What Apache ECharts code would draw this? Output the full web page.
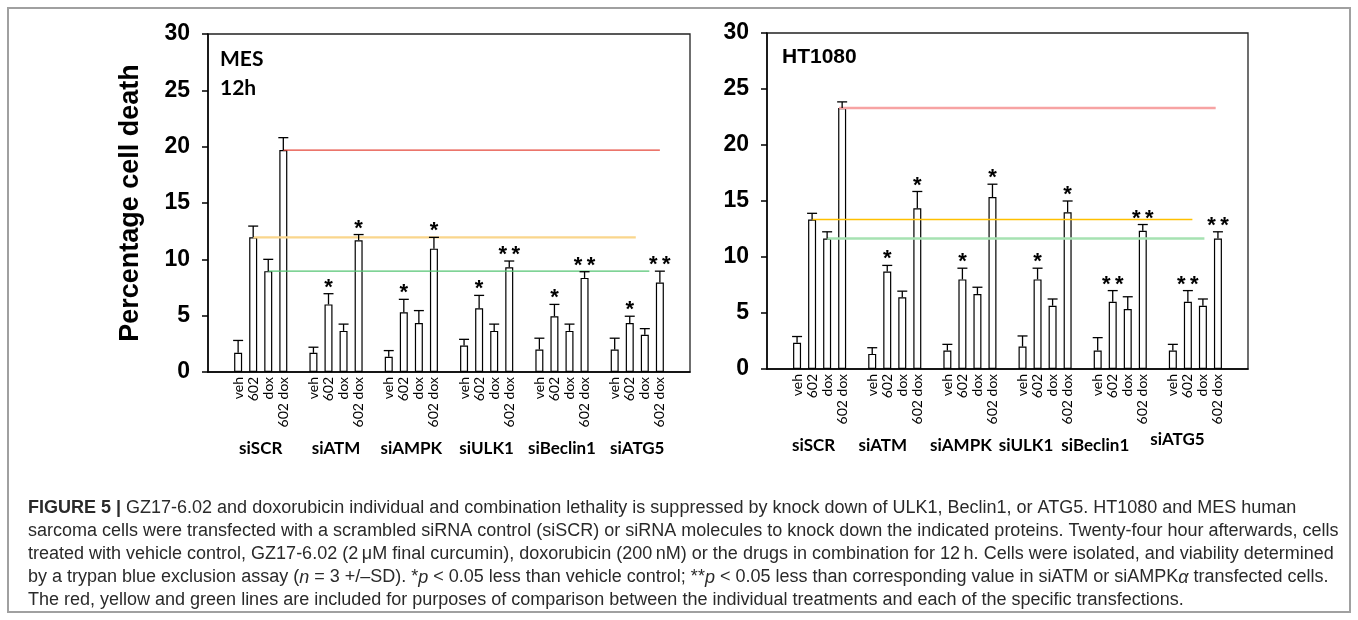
<!DOCTYPE html>
<html><head><meta charset="utf-8">
<script src="https://cdn.jsdelivr.net/npm/echarts@6/dist/echarts.min.js"></script>
<style>html,body{margin:0;padding:0;background:#fff}#c{width:1358px;height:620px}</style>
</head><body><div id="c"></div>
<script>
// ---------- data ----------
const groups = ['siSCR', 'siATM', 'siAMPK', 'siULK1', 'siBeclin1', 'siATG5'];
const treatments = ['veh', '602', 'dox', '602 dox'];
const yTicks = [0, 5, 10, 15, 20, 25, 30];

// MES 12h (left panel): mean and SD per group x treatment
const mesMean = [
  [1.7, 11.95, 8.95, 19.7],
  [1.7, 6.0, 3.65, 11.7],
  [1.35, 5.3, 4.35, 10.95],
  [2.35, 5.65, 3.65, 9.3],
  [2.0, 4.95, 3.65, 8.35],
  [2.0, 4.35, 3.3, 7.95]
];
const mesSD = [
  [1.1, 1.0, 1.05, 1.1],
  [0.5, 0.95, 0.6, 0.5],
  [0.55, 1.15, 1.1, 1.0],
  [0.55, 1.15, 0.6, 0.55],
  [1.0, 1.05, 0.6, 0.55],
  [1.0, 0.6, 0.55, 1.0]
];
const mesStars = [
  ['', '', '', ''],
  ['', '*', '', '*'],
  ['', '*', '', '*'],
  ['', '*', '', '**'],
  ['', '*', '', '**'],
  ['', '*', '', '**']
];

// HT1080 (right panel)
const htMean = [
  [2.35, 13.35, 11.65, 23.3],
  [1.35, 8.7, 6.4, 14.35],
  [1.65, 8.0, 6.7, 15.35],
  [2.0, 8.0, 5.65, 14.0],
  [1.65, 6.0, 5.35, 12.35],
  [1.65, 6.0, 5.65, 11.65]
];
const htSD = [
  [0.55, 0.55, 0.6, 0.55],
  [0.55, 0.55, 0.55, 1.5],
  [0.55, 1.0, 0.6, 1.15],
  [0.95, 1.0, 0.6, 1.0],
  [1.15, 1.0, 1.1, 0.55],
  [0.55, 1.0, 0.6, 0.6]
];
const htStars = [
  ['', '', '', ''],
  ['', '*', '', '*'],
  ['', '*', '', '*'],
  ['', '*', '', '*'],
  ['', '**', '', '**'],
  ['', '**', '', '**']
];

// comparison lines: level = siSCR value of [602 dox, 602, dox]; extent in category units
const refTreatment = [3, 1, 2];           // red, yellow, green
const mesRefStart = [5, 3, 4];
const mesRefEnd = [30, 28.4, 29.3];
const htRefStart = [4.8, 3, 4];
const htRefEnd = [29.85, 28.3, 29.1];

const captionLines = [
  '{b|FIGURE 5 |} GZ17-6.02 and doxorubicin individual and combination lethality is suppressed by knock down of ULK1, Beclin1, or ATG5. HT1080 and MES human',
  'sarcoma cells were transfected with a scrambled siRNA control (siSCR) or siRNA molecules to knock down the indicated proteins. Twenty-four hour afterwards, cells',
  'treated with vehicle control, GZ17-6.02 (2\u2009\u03bcM final curcumin), doxorubicin (200\u2009nM) or the drugs in combination for 12\u2009h. Cells were isolated, and viability determined',
  'by a trypan blue exclusion assay ({i|n} = 3 +/\u2013SD). *{i|p} < 0.05 less than vehicle control; **{i|p} < 0.05 less than corresponding value in siATM or siAMPK{i|\u03b1} transfected cells.',
  'The red, yellow and green lines are included for purposes of comparison between the individual treatments and each of the specific transfections.'
];

// ---------- layout / style ----------
const refColors = {
  mes: [['#e5473a', 1.2], ['#fad68c', 2.4], ['#55c473', 1.3]],
  ht: [['#f7a3a3', 2.4], ['#ffc000', 1.3], ['#a6e2b2', 2.4]]
};
const htLabelDx = [-6, -12, -9, -19, -25, -18];
const htLabelDy = [0, 0, 0, 0, 0, -6];
const capFont = 18;

// ---------- helpers ----------
const catIndex = (g, t) => 2 + 5 * g + t;
function makeCats() {
  const c = ['', ''];
  groups.forEach(() => { treatments.forEach(t => c.push(t)); c.push(''); });
  c.push('');
  return c;
}
const cats = makeCats();
function barData(means) {
  const d = cats.map(() => '-');
  means.forEach((row, g) => row.forEach((m, t) => { d[catIndex(g, t)] = m; }));
  return d;
}
function errorSeries(xIdx, yIdx, means, sds, stars) {
  const items = [], starText = [];
  means.forEach((row, g) => row.forEach((m, t) => {
    items.push([catIndex(g, t), m, m + sds[g][t]]);
    starText.push(stars[g][t]);
  }));
  return {
    type: 'custom', xAxisIndex: xIdx, yAxisIndex: yIdx, z: 6, silent: true, data: items,
    renderItem: (params, api) => {
      const x = api.value(0);
      const b = api.coord([x, api.value(1)]);
      const tp = api.coord([x, api.value(2)]);
      const s = starText[params.dataIndex];
      const ch = [
        {type: 'line', shape: {x1: b[0], y1: b[1], x2: tp[0], y2: tp[1]}, style: {stroke: '#000', lineWidth: 1.3}},
        {type: 'line', shape: {x1: tp[0] - 5, y1: tp[1], x2: tp[0] + 5, y2: tp[1]}, style: {stroke: '#000', lineWidth: 1.3}}
      ];
      if (s) ch.push({type: 'text', x: tp[0], y: tp[1] - 6,
        style: {text: s.split('').join('\u2009'), font: 'bold 22px "Liberation Sans", Arial', fill: '#000', align: 'center', verticalAlign: 'middle'}});
      return {type: 'group', children: ch};
    }
  };
}
function refSeries(xIdx, yIdx, means, starts, ends, colors) {
  return refTreatment.map((t, k) => ({
    type: 'line', xAxisIndex: xIdx, yAxisIndex: yIdx, z: 4, silent: true, symbol: 'none',
    data: [[starts[k], means[0][t]], [ends[k], means[0][t]]],
    lineStyle: {color: colors[k][0], width: colors[k][1]}
  }));
}
function groupLabelSeries(xIdx, yIdx, dx, dy) {
  return {
    type: 'custom', xAxisIndex: xIdx, yAxisIndex: yIdx, silent: true, clip: false,
    data: groups.map((g, i) => [catIndex(i, 0) + 1.5, 0]),
    renderItem: (params, api) => {
      const p = api.coord([api.value(0), 0]);
      const i = params.dataIndex;
      return {type: 'text', x: p[0] + (dx ? dx[i] : 0), y: p[1] + 77 + (dy ? dy[i] : 0),
        style: {text: groups[i], font: 'bold 17px Lato', fill: '#000', align: 'center', verticalAlign: 'middle'}};
    }
  };
}
function catAxis(gi) {
  return {gridIndex: gi, type: 'category', data: cats, boundaryGap: false,
    axisLine: {lineStyle: {color: '#000', width: 1.5}}, axisTick: {show: false},
    axisLabel: {interval: 0, rotate: 90, fontFamily: 'Lato', fontSize: 14, color: '#000', margin: 5},
    splitLine: {show: false}};
}
function valX(gi) {
  return {gridIndex: gi, type: 'value', min: 0, max: cats.length - 1, show: false};
}
function yAx(gi, name) {
  return {gridIndex: gi, type: 'value', min: yTicks[0], max: yTicks[yTicks.length - 1], interval: yTicks[1] - yTicks[0],
    name: name, nameLocation: 'middle', nameGap: 64,
    nameTextStyle: {fontFamily: 'Liberation Sans', fontWeight: 'bold', fontSize: 27, color: '#000'},
    axisLine: {show: true, lineStyle: {color: '#000', width: 1.5}},
    axisTick: {show: true, length: 6, lineStyle: {color: '#000', width: 1.5}},
    axisLabel: {fontFamily: 'Liberation Sans', fontWeight: 'bold', fontSize: 23, color: '#000', margin: 18},
    splitLine: {show: false}};
}
const barStyle = {color: '#fff', borderColor: '#000', borderWidth: 1.2};

const option = {
  backgroundColor: '#fff',
  animation: false,
  grid: [
    {left: 208, top: 34, width: 482, height: 338, show: true, borderColor: '#222', borderWidth: 1.3},
    {left: 767, top: 33, width: 481, height: 336, show: true, borderColor: '#222', borderWidth: 1.3}
  ],
  xAxis: [catAxis(0), valX(0), catAxis(1), valX(1)],
  yAxis: [yAx(0, 'Percentage cell death'), yAx(1, '')],
  series: [
    {type: 'bar', xAxisIndex: 0, yAxisIndex: 0, data: barData(mesMean), barWidth: 8, itemStyle: barStyle, z: 2, silent: true},
    ...refSeries(1, 0, mesMean, mesRefStart, mesRefEnd, refColors.mes),
    errorSeries(1, 0, mesMean, mesSD, mesStars),
    groupLabelSeries(1, 0),
    {type: 'bar', xAxisIndex: 2, yAxisIndex: 1, data: barData(htMean), barWidth: 8, itemStyle: barStyle, z: 2, silent: true},
    ...refSeries(3, 1, htMean, htRefStart, htRefEnd, refColors.ht),
    errorSeries(3, 1, htMean, htSD, htStars),
    groupLabelSeries(3, 1, htLabelDx, htLabelDy)
  ],
  graphic: [
    {type: 'rect', shape: {x: 8, y: 8, width: 1342, height: 604}, style: {fill: 'none', stroke: '#a0a0a0', lineWidth: 2}, silent: true},
    {type: 'text', x: 220, y: 59, style: {text: 'MES', font: 'bold 21px Lato', fill: '#000', verticalAlign: 'middle'}},
    {type: 'text', x: 220, y: 88, style: {text: '12h', font: 'bold 21px Lato', fill: '#000', verticalAlign: 'middle'}},
    {type: 'text', x: 782, y: 57, style: {text: 'HT1080', font: 'bold 21px "Liberation Sans", Arial', fill: '#000', verticalAlign: 'middle'}},
    {type: 'text', x: 28, y: 497, style: {
      text: captionLines.join('\n'), font: capFont + 'px "Liberation Sans", Arial', fill: '#2a2a2a', lineHeight: 23,
      verticalAlign: 'top',
      rich: {
        b: {fontWeight: 'bold', fontSize: capFont, fontFamily: 'Liberation Sans', lineHeight: 23, fill: '#2a2a2a'},
        i: {fontStyle: 'italic', fontSize: capFont, fontFamily: 'Liberation Sans', lineHeight: 23, fill: '#2a2a2a'}
      }}}
  ]
};
const chart = echarts.init(document.getElementById('c'), null, {renderer: 'canvas'});
chart.setOption(option);
</script></body></html>
